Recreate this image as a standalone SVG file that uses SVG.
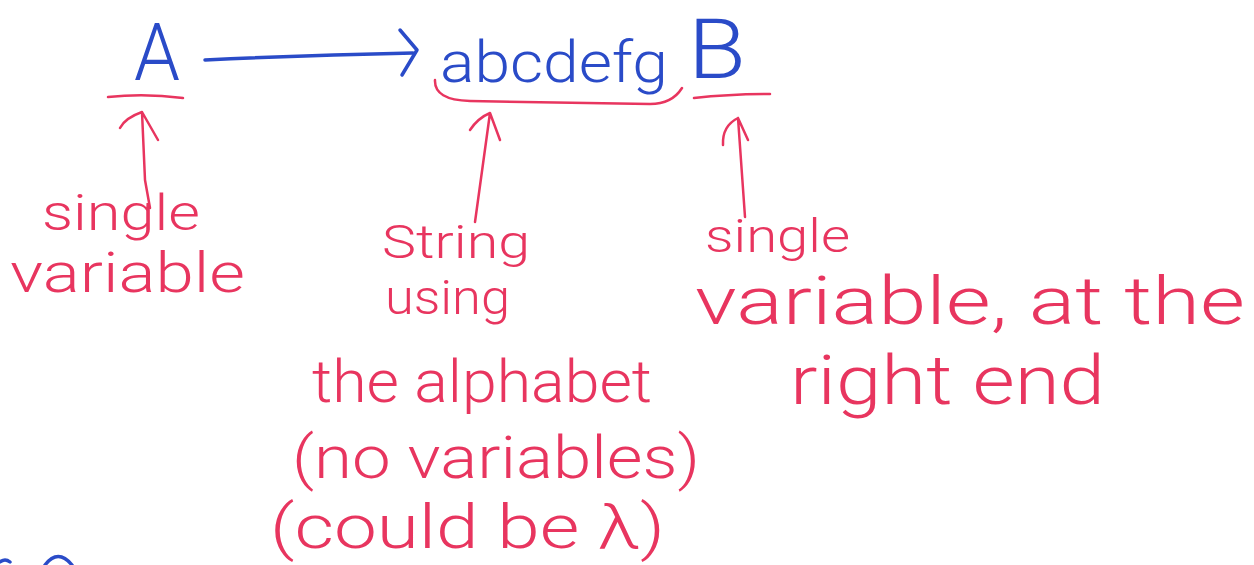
<svg xmlns="http://www.w3.org/2000/svg" width="1254" height="565" viewBox="0 0 1254 565">
<style>
.b{fill:#2a4bc8;font-family:Roboto,"Liberation Sans",Arial,sans-serif;font-weight:300}
.r{fill:#e8355f;font-family:Roboto,"Liberation Sans",Arial,sans-serif;font-weight:300}
.bl{stroke:#2a4bc8;stroke-width:3.5;fill:none;stroke-linecap:round;stroke-linejoin:round}
.rl{stroke:#e8355f;stroke-width:2.5;fill:none;stroke-linecap:round;stroke-linejoin:round}
</style>
<rect width="1254" height="565" fill="#ffffff"/>
<g id="nodeA"><text class="b" x="134" y="80" font-size="80" textLength="46" lengthAdjust="spacingAndGlyphs">A</text></g>
<g id="nodeString"><text class="b" x="440" y="82" font-size="58" textLength="228" lengthAdjust="spacingAndGlyphs">abcdefg</text></g>
<g id="nodeB"><text class="b" x="688" y="78" font-size="84" textLength="58" lengthAdjust="spacingAndGlyphs">B</text></g>
<g id="marks">
<path class="rl" d="M108,97 Q145,93 183,98"/>
<path class="rl" d="M435,80 Q434,100 470,101 L650,104 Q672,104 682,88"/>
<path class="rl" d="M694,98 Q730,94 770,94"/>
</g>
<g id="connectors">
<path class="bl" d="M205,60 Q310,55 413,53"/>
<path class="bl" d="M400,30 L417,50 L402,75"/>
<path class="rl" d="M150,208 L145,180 L142,112 M120,128 Q125,118 142,112 L158,140"/>
<path class="rl" d="M475,222 L490,113 M470,130 Q478,118 490,113 L500,140"/>
<path class="rl" d="M745,217 L738,118 M723,145 Q722,126 738,118 L748,140"/>
<path class="bl" d="M0,562 Q5,558 10,562 M45,565 Q58,548 72,565"/>
</g>
<g id="labelLeft">
<text class="r" x="42" y="230" font-size="50" textLength="158" lengthAdjust="spacingAndGlyphs">single</text>
<text class="r" x="10" y="292" font-size="56" textLength="235" lengthAdjust="spacingAndGlyphs">variable</text>
</g>
<g id="labelMid">
<text class="r" x="382" y="258" font-size="46" textLength="148" lengthAdjust="spacingAndGlyphs">String</text>
<text class="r" x="385" y="314" font-size="48" textLength="125" lengthAdjust="spacingAndGlyphs">using</text>
<text class="r" x="312" y="402" font-size="60" textLength="340" lengthAdjust="spacingAndGlyphs">the alphabet</text>
<text class="r" x="292" y="478" font-size="60" textLength="408" lengthAdjust="spacingAndGlyphs">(no variables)</text>
<text class="r" x="270" y="548" font-size="62" textLength="395" lengthAdjust="spacingAndGlyphs">(could be λ)</text>
</g>
<g id="labelRight">
<text class="r" x="705" y="252" font-size="46" textLength="145" lengthAdjust="spacingAndGlyphs">single</text>
<text class="r" x="695" y="324" font-size="66" textLength="550" lengthAdjust="spacingAndGlyphs">variable, at the</text>
<text class="r" x="790" y="404" font-size="68" textLength="315" lengthAdjust="spacingAndGlyphs">right end</text>
</g>
</svg>
